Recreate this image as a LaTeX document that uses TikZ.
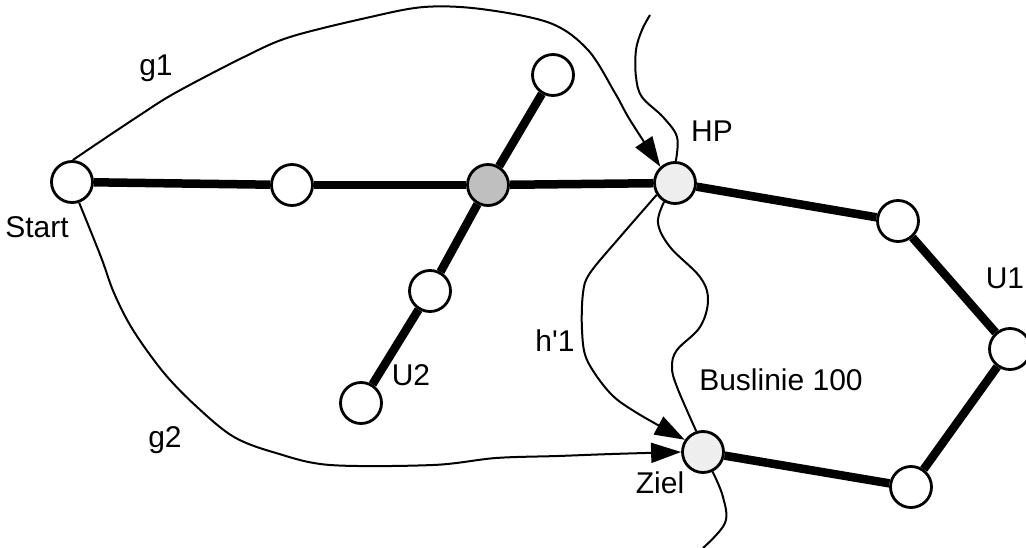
\documentclass[tikz,border=0pt]{standalone}
\usepackage{fontspec}
\setmainfont{Liberation Sans}
\usetikzlibrary{arrows.meta}
\definecolor{stgray}{HTML}{BFBFBF}
\definecolor{stlight}{HTML}{EEEEEE}
\tikzset{
  stn/.style={circle, draw, line width=2.8pt, minimum size=41pt, inner sep=0pt, fill=white},
  track/.style={line width=8.5pt},
  walk/.style={line width=2pt},
  arr/.style={-{Triangle[length=30pt,width=20pt]}},
  lbl/.style={anchor=base, inner sep=0pt, font=\fontsize{30}{35}\selectfont},
}
\begin{document}
\begin{tikzpicture}[x=1pt,y=-1pt]
\useasboundingbox (0,0) rectangle (1026,548);
% stations
\node[stn] (S) at (72,182) {};
\node[stn] (A) at (292,185) {};
\node[stn, fill=stgray] (C) at (488,185) {};
\node[stn] (T) at (553,75) {};
\node[stn] (M) at (430,291) {};
\node[stn] (B) at (361,403) {};
\node[stn, fill=stlight] (HP) at (675,183) {};
\node[stn] (R1) at (898,221) {};
\node[stn] (R2) at (1010,349) {};
\node[stn] (R3) at (911,487) {};
\node[stn, fill=stlight] (Z) at (703,452) {};
% tracks
\draw[track] (S) -- (A);
\draw[track] (A) -- (C);
\draw[track] (C) -- (HP);
\draw[track] (T) -- (C);
\draw[track] (C) -- (M);
\draw[track] (M) -- (B);
\draw[track] (HP) -- (R1);
\draw[track] (R1) -- (R2);
\draw[track] (R2) -- (R3);
\draw[track] (R3) -- (Z);
% free ends of bus line
\coordinate (bt) at (650,15);
\coordinate (bb) at (703,548);
% bus line
\draw[walk] plot[smooth, tension=0.6] coordinates {(bt) (642,30) (636,50) (636,77) (642,97) (663,117) (677,137) (HP.88)};
\draw[walk] plot[smooth, tension=0.6] coordinates {(HP.240) (658,223) (670,247) (700,277) (708,300) (700,327) (677,350) (672,367) (677,387) (Z.108)};
\draw[walk] plot[smooth, tension=0.6] coordinates {(Z.296) (723,497) (725,523) (bb)};
% walks
\draw[walk, arr] plot[smooth, tension=0.55] coordinates {(S.88) (98,143) (137,117) (175,93) (244,57) (290,37) (366,18) (424,7) (481,9) (550,23) (588,50) (615,93) (630,120) (HP.132)};
\draw[walk, arr] plot[smooth, tension=0.55] coordinates {(HP.213) (620,237) (590,273) (583,293) (582,330) (587,360) (610,393) (637,413) (Z.146)};
\draw[walk, arr] plot[smooth, tension=0.55] coordinates {(S.289) (101,257) (114,293) (133,330) (164,373) (197,407) (234,437) (276,453) (330,465) (433,465) (496,458) (558,456) (612,454) (Z.180)};
% labels
\node[lbl] (lg1) at (156,76) {g1};
\node[lbl] (lhp) at (712,142) {HP};
\node[lbl] (lst) at (37,238) {Start};
\node[lbl] (lu2) at (411,385) {U2};
\node[lbl] (lh1) at (555,351) {h\textquotesingle 1};
\node[lbl] (lg2) at (165,447) {g2};
\node[lbl] (lbus) at (781,390) {Buslinie 100};
\node[lbl] (lz) at (660,493) {Ziel};
\node[lbl] (lu1) at (1005,288) {U1};
\end{tikzpicture}
\end{document}
